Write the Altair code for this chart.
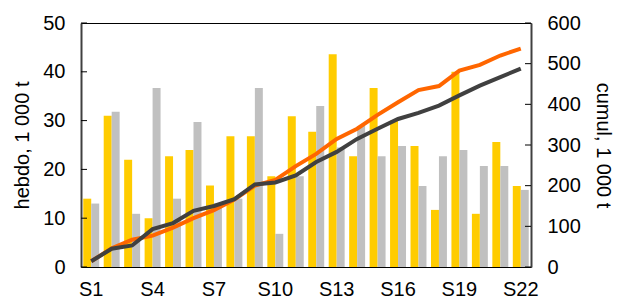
import altair as alt
import pandas as pd

weeks = [f"S{i}" for i in range(1, 23)]
hebdo_jaune = [14, 31, 22, 10, 22.7, 24, 16.7, 26.8, 26.8, 18.6, 30.9, 27.7,
               43.6, 22.7, 36.7, 30, 24.8, 11.7, 40, 10.9, 25.6, 16.6]
hebdo_gris = [13, 31.8, 10.9, 36.7, 14, 29.7, 13, 14, 36.7, 6.8, 18.6, 33,
              24.5, 28.9, 22.7, 24.8, 16.6, 22.7, 24, 20.7, 20.7, 15.8]
cumul_orange = [14, 46, 67, 77, 97, 120, 140, 166, 200, 214, 248, 278,
                315, 340, 374, 405, 435, 445, 483, 497, 520, 537]
cumul_gris = [14, 45, 53, 93, 108, 138, 150, 167, 203, 208, 225, 258,
              283, 315, 340, 364, 379, 397, 422, 446, 467, 488]
left_ticks = [0, 10, 20, 30, 40, 50]
right_ticks = [0, 100, 200, 300, 400, 500, 600]
x_labels = ["S1", "S4", "S7", "S10", "S13", "S16", "S19", "S22"]

FONT = "Liberation Sans"

bars_df = pd.DataFrame({
    "week": weeks * 2,
    "serie": ["a"] * 22 + ["b"] * 22,
    "value": hebdo_jaune + hebdo_gris,
})
lines_df = pd.DataFrame({
    "week": weeks * 2,
    "serie": ["o"] * 22 + ["d"] * 22,
    "cumul": cumul_orange + cumul_gris,
})
lt_df = pd.DataFrame({"value": left_ticks})
rt_df = pd.DataFrame({"cumul": right_ticks})

xscale = alt.Scale(domain=weeks, paddingInner=0.22, paddingOuter=0.11)
xaxis = alt.Axis(values=x_labels, title=None, labelAngle=0, tickSize=0, domain=False,
                 labelPadding=12, labelFontSize=20, labelFont=FONT, labelColor="#000")
yL = alt.Scale(domain=[0, 50], nice=False, zero=True)
yR = alt.Scale(domain=[0, 600], nice=False, zero=True)
axL = alt.Axis(values=left_ticks, title="hebdo, 1 000 t", grid=False, tickSize=0,
               labelPadding=16, titlePadding=10, orient="left",
               domainColor="#404040", domainWidth=2)
axR = alt.Axis(values=right_ticks, title="cumul, 1 000 t", grid=False, tickSize=0,
               labelPadding=16, titlePadding=12, orient="right",
               domainColor="#404040", domainWidth=2)

bars = alt.Chart(bars_df).mark_bar().encode(
    x=alt.X("week:N", scale=xscale, axis=xaxis, sort=weeks),
    xOffset=alt.XOffset("serie:N", scale=alt.Scale(domain=["a", "b"], paddingInner=0, paddingOuter=0)),
    y=alt.Y("value:Q", scale=yL, axis=axL),
    color=alt.Color("serie:N", scale=alt.Scale(domain=["a", "b"], range=["#FFCC00", "#C0C0C0"]), legend=None),
)
ticksL = alt.Chart(lt_df).mark_rule(color="#000", strokeWidth=1).encode(
    y=alt.Y("value:Q", scale=yL, axis=axL),
    x=alt.value(0), x2=alt.value(6),
)
left = alt.layer(bars, ticksL)

lineO = alt.Chart(lines_df).transform_filter(alt.datum.serie == "o").mark_line(
    color="#FF6600", strokeWidth=4).encode(
    x=alt.X("week:N", scale=xscale, axis=xaxis, sort=weeks),
    y=alt.Y("cumul:Q", scale=yR, axis=axR),
)
lineD = alt.Chart(lines_df).transform_filter(alt.datum.serie == "d").mark_line(
    color="#404040", strokeWidth=4).encode(
    x=alt.X("week:N", scale=xscale, axis=xaxis, sort=weeks),
    y=alt.Y("cumul:Q", scale=yR, axis=axR),
)
ticksR = alt.Chart(rt_df).mark_rule(color="#000", strokeWidth=1).encode(
    y=alt.Y("cumul:Q", scale=yR, axis=axR),
    x=alt.value(444), x2=alt.value(450),
)
right = alt.layer(lineO, lineD, ticksR)

chart = alt.layer(left, right).resolve_scale(y="independent").properties(
    width=450, height=244,
    autosize=alt.AutoSizeParams(type="none"),
    padding={"left": 73, "top": 15, "right": 87, "bottom": 32},
).configure_view(
    stroke="#000", strokeWidth=1
).configure_axis(
    labelFont=FONT, titleFont=FONT, labelFontSize=20, titleFontSize=20,
    titleFontWeight="normal", labelColor="#000", titleColor="#000",
)

chart.save("out.html", embed_options={"renderer": "svg", "actions": False})
